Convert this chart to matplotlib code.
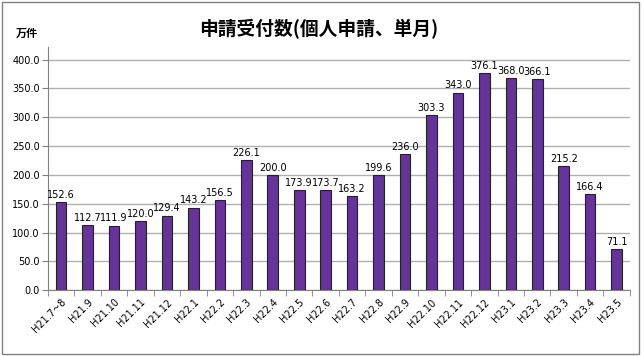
import matplotlib
matplotlib.use("Agg")
import matplotlib.pyplot as plt
from matplotlib.patches import Rectangle

categories = ["H21.7~8", "H21.9", "H21.10", "H21.11", "H21.12", "H22.1", "H22.2", "H22.3",
              "H22.4", "H22.5", "H22.6", "H22.7", "H22.8", "H22.9", "H22.10", "H22.11",
              "H22.12", "H23.1", "H23.2", "H23.3", "H23.4", "H23.5"]
values = [152.6, 112.7, 111.9, 120.0, 129.4, 143.2, 156.5, 226.1, 200.0, 173.9, 173.7,
          163.2, 199.6, 236.0, 303.3, 343.0, 376.1, 368.0, 366.1, 215.2, 166.4, 71.1]
yticks = [0, 50, 100, 150, 200, 250, 300, 350, 400]

plt.rcParams['font.family'] = ['DejaVu Sans', 'Noto Sans CJK JP']

fig = plt.figure(figsize=(6.44, 3.56), dpi=100)
ax = fig.add_axes([0.0745, 0.185, 0.9035, 0.683])

x = list(range(len(categories)))
ax.bar(x, values, width=0.4, color="#663399", edgecolor="#222222", linewidth=0.8, zorder=3)
for xi, v in zip(x, values):
    ax.text(xi, v + 4, f"{v:.1f}", ha="center", va="bottom", fontsize=7, color="#000000", zorder=4)

ax.set_xlim(-0.5, len(categories) - 0.5)
ax.set_ylim(0, 422)
ax.set_yticks(yticks)
ax.set_yticklabels([f"{t:.1f}" for t in yticks], fontsize=7)
ax.yaxis.grid(True, color="#b0b0b0", linewidth=1.0, zorder=0)
ax.set_xticks(x)
ax.set_xticklabels(categories, rotation=45, ha="right", rotation_mode="anchor", fontsize=7)
ax.tick_params(axis="x", length=0, pad=5)
ax.set_xticks([i - 0.5 for i in range(len(categories) + 1)], minor=True)
ax.tick_params(axis="x", which="minor", length=4, color="#808080", direction="out")
ax.tick_params(axis="y", length=4, color="#808080", direction="out", pad=2)
for s in ["top", "right"]:
    ax.spines[s].set_visible(False)
ax.spines["left"].set_color("#808080")
ax.spines["bottom"].set_color("#808080")

fig.text(0.495, 0.918, "申請受付数(個人申請、単月)", ha="center", va="center", fontsize=13.5,
         fontweight="bold", family=["Noto Sans CJK JP", "DejaVu Sans"])
fig.text(0.025, 0.905, "万件", ha="left", va="center", fontsize=8, fontweight="bold",
         family=["Noto Sans CJK JP", "DejaVu Sans"])

fig.patches.append(Rectangle((0.003, 0.006), 0.99, 0.988, transform=fig.transFigure,
                             fill=False, edgecolor="#808080", linewidth=1.0))

fig.savefig("out.png", dpi=100)
